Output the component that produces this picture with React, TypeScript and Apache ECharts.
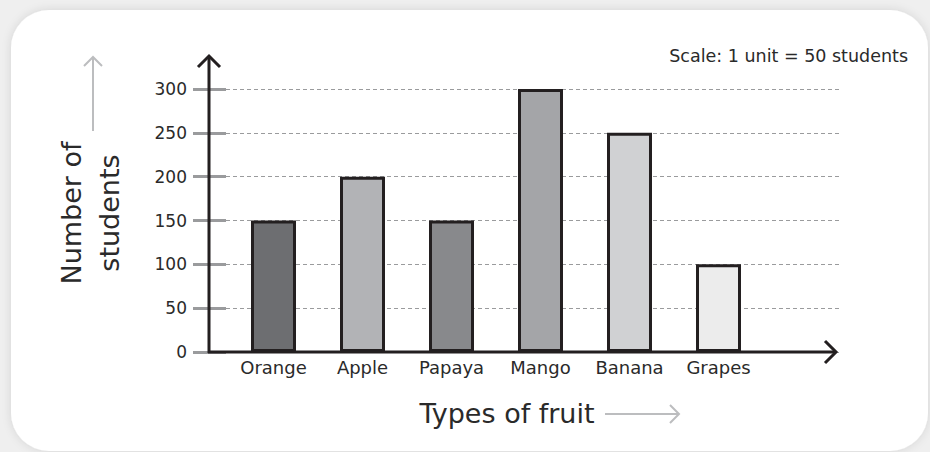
import React, { useEffect, useRef } from "react";
import * as echarts from "echarts";

const categories = ["Orange", "Apple", "Papaya", "Mango", "Banana", "Grapes"];
const students = [150, 200, 150, 300, 250, 100];
const barColors = ["#6d6e71", "#b2b3b6", "#88898c", "#a4a5a8", "#d0d1d3", "#ececec"];
const yMin = 0;
const yMax = 300;
const yStep = 50;

const FONT = "'DejaVu Sans', 'Noto Sans', sans-serif";

export default function App() {
  const ref = useRef<HTMLDivElement>(null);
  useEffect(() => {
    if (!ref.current) return;
    const chart = echarts.init(ref.current, null, { renderer: "svg" });
    const axisColor = "#231f20";
    const textColor = "#2a2a2a";
    const hint = "#bcbdbf";
    chart.setOption({
      animation: false,
      backgroundColor: "#efefef",
      grid: [
        { left: 229, top: 89, width: 534, height: 263 },
        { left: 226, top: 89, width: 616, height: 263 },
      ],
      xAxis: [
        {
          type: "category",
          gridIndex: 0,
          data: categories,
          axisLine: { show: false },
          axisTick: { show: false },
          axisLabel: { color: textColor, fontSize: 18, fontFamily: FONT, margin: 6 },
        },
        { type: "value", gridIndex: 1, show: false },
      ],
      yAxis: [
        { type: "value", gridIndex: 0, min: yMin, max: yMax, interval: yStep, show: false },
        {
          type: "value",
          gridIndex: 1,
          min: yMin,
          max: yMax,
          interval: yStep,
          axisLine: { show: false },
          axisTick: { show: true, length: 33, lineStyle: { color: "#9a9b9d", width: 3 } },
          axisLabel: { color: textColor, fontSize: 17, fontFamily: FONT, margin: 39 },
          splitLine: { show: true, lineStyle: { color: "#9a9b9d", width: 1, type: [4, 3] } },
        },
      ],
      series: [
        {
          type: "bar",
          xAxisIndex: 0,
          yAxisIndex: 0,
          barWidth: 45,
          data: students.map((v, i) => ({
            value: v,
            itemStyle: { color: barColors[i], borderColor: axisColor, borderWidth: 3 },
          })),
          z: 3,
        },
      ],
      graphic: [
        {
          type: "rect",
          z: -10,
          silent: true,
          shape: { x: 11, y: 10, width: 917, height: 441, r: 38 },
          style: { fill: "#ffffff", shadowBlur: 10, shadowColor: "rgba(0,0,0,0.12)" },
        },
        // main axes
        {
          type: "line",
          z: 10,
          shape: { x1: 209, y1: 353, x2: 209, y2: 56 },
          style: { stroke: axisColor, lineWidth: 3 },
        },
        {
          type: "polyline",
          z: 10,
          shape: { points: [[198, 67], [209, 56], [220, 67]] },
          style: { stroke: axisColor, lineWidth: 3, fill: null },
        },
        {
          type: "line",
          z: 10,
          shape: { x1: 208, y1: 352, x2: 836, y2: 352 },
          style: { stroke: axisColor, lineWidth: 3 },
        },
        {
          type: "polyline",
          z: 10,
          shape: { points: [[825, 341], [836, 352], [825, 363]] },
          style: { stroke: axisColor, lineWidth: 3, fill: null },
        },
        // axis names
        {
          type: "text",
          x: 90,
          y: 213,
          rotation: Math.PI / 2,
          style: {
            text: "Number of\nstudents",
            fill: textColor,
            font: `27px ${FONT}`,
            align: "center",
            verticalAlign: "middle",
            lineHeight: 38,
          },
        },
        {
          type: "line",
          shape: { x1: 93, y1: 131, x2: 93, y2: 57 },
          style: { stroke: hint, lineWidth: 2 },
        },
        {
          type: "polyline",
          shape: { points: [[84, 66], [93, 57], [102, 66]] },
          style: { stroke: hint, lineWidth: 2, fill: null },
        },
        {
          type: "text",
          x: 507,
          y: 413,
          style: {
            text: "Types of fruit",
            fill: textColor,
            font: `27px ${FONT}`,
            align: "center",
            verticalAlign: "middle",
          },
        },
        {
          type: "line",
          shape: { x1: 605, y1: 414, x2: 679, y2: 414 },
          style: { stroke: hint, lineWidth: 2 },
        },
        {
          type: "polyline",
          shape: { points: [[670, 405], [679, 414], [670, 423]] },
          style: { stroke: hint, lineWidth: 2, fill: null },
        },
        {
          type: "text",
          x: 908,
          y: 56,
          style: {
            text: "Scale: 1 unit = 50 students",
            fill: textColor,
            font: `17.5px ${FONT}`,
            align: "right",
            verticalAlign: "middle",
          },
        },
      ],
    });
    return () => chart.dispose();
  }, []);
  return (
    <div
      ref={ref}
      style={{ position: "absolute", left: 0, top: 0, width: 930, height: 452 }}
    />
  );
}
